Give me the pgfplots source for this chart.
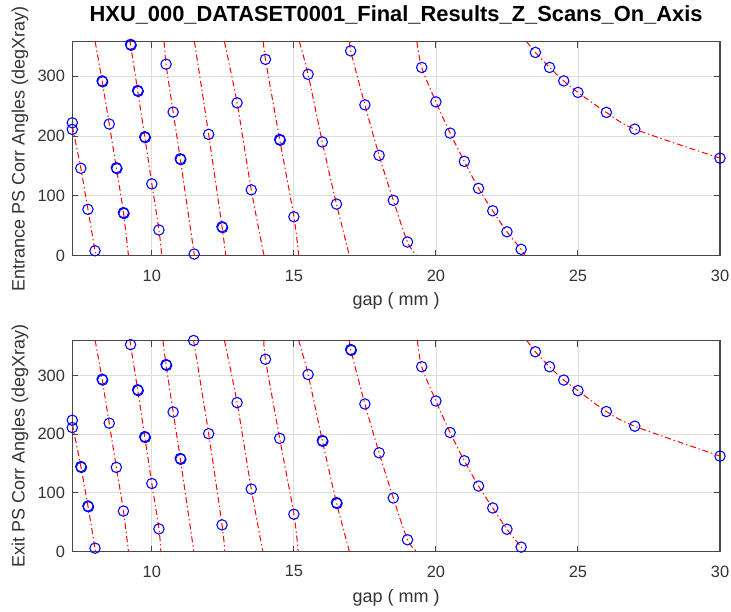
\documentclass[border=0pt]{standalone}
\usepackage{fontspec}
\setmainfont{Liberation Sans}
\usepackage{pgfplots}
\pgfplotsset{compat=1.18}
\definecolor{axgray}{rgb}{0.28,0.28,0.28}
\definecolor{txtgray}{rgb}{0.2,0.2,0.2}
\definecolor{gridgray}{rgb}{0.87,0.87,0.87}
\pgfplotsset{
  curve/.style={color=red, line width=0.75pt, dash pattern=on 4.5pt off 2.2pt on 1pt off 2.2pt, smooth, tension=0.5, mark=none, forget plot},
  pts/.style={only marks, mark=o, color=blue, mark size=3.9pt, mark options={line width=0.8pt, solid}, forget plot},
  matstyle/.style={
    scale only axis, width=485.775pt,
    xmin=7.2, xmax=30,
    xtick={10,15,20,25,30}, ytick={0,100,200,300},
    grid=major, major grid style={color=gridgray, line width=0.6pt},
    axis line style={color=axgray, line width=0.9pt},
    tick style={color=axgray, line width=0.7pt},
    tick align=inside, major tick length=4.5pt,
    /pgf/number format/assume math mode=true,
    tick label style={font=\fontsize{12.3}{14}\selectfont, color=txtgray},
    xticklabel style={yshift=-7pt},
    yticklabel style={xshift=-2pt},
    label style={font=\fontsize{13.5}{15}\selectfont, color=txtgray},
    ylabel style={at={(axis description cs:-0.0807,0.5)}, anchor=center, rotate=0},
    clip mode=individual,
  }
}
\begin{document}
\begin{tikzpicture}
\path[use as bounding box] (0,0) rectangle (548.25pt,-458.25pt);
% ---------------- top axis ----------------
\begin{axis}[matstyle, at={(54.225pt,-31.275pt)}, anchor=north west,
  height=160.5pt, ymin=0, ymax=357.5,
  title={HXU\_000\_DATASET0001\_Final\_Results\_Z\_Scans\_On\_Axis},
  title style={font=\bfseries\fontsize{16.4}{18}\selectfont, color=black, at={(axis description cs:0.5,1)}, anchor=base, yshift=9.3pt},
  xlabel={gap ( mm )},
  xlabel style={at={(axis description cs:0.5,0)}, anchor=center, yshift=-33.7pt},
  ylabel={Entrance PS Corr Angles (degXray)}]
\addplot[curve] coordinates {(7.2,216) (7.5,146) (7.75,77.5) (8.0,8.3) (8.04,0)};
\addplot[curve] coordinates {(8.005,357.5) (8.25,292) (8.5,220) (8.75,147) (9.0,72) (9.177,0)};
\addplot[curve] coordinates {(9.236,357.5) (9.25,353) (9.5,276) (9.75,198.7) (10.0,120) (10.25,43) (10.35,0)};
\addplot[curve] coordinates {(10.433,357.5) (10.5,320) (10.75,240) (11.0,162) (11.49,2.8) (11.51,0)};
\addplot[curve] coordinates {(11.5,357.5) (12.0,202.7) (12.47,48.4) (12.605,0)};
\addplot[curve] coordinates {(12.555,357.5) (13.0,255.4) (13.5,110) (13.95,0)};
\addplot[curve] coordinates {(13.928,357.5) (14.0,328) (14.5,194.3) (15.0,65) (15.17,0)};
\addplot[curve] coordinates {(15.195,357.5) (15.5,303) (16.0,190) (16.5,86.3) (16.955,0)};
\addplot[curve] coordinates {(16.98,357.5) (17.0,342.2) (17.5,252) (18.0,167.6) (18.5,92.5) (19.0,22.9) (19.326,0)};
\addplot[curve] coordinates {(19.33,357.5) (19.5,314.5) (20.0,257) (20.5,204.8) (21.0,157.6) (21.5,112.5) (22.0,75) (22.5,40) (23.0,10.7) (23.13,0)};
\addplot[curve] coordinates {(23.197,357.5) (23.5,339.6) (24.0,314.5) (24.5,292) (25.0,272.8) (26.0,239.4) (27.0,211.5) (30.0,163)};
\addplot[pts] coordinates {
(7.2,222) (7.2,211) (7.5,146) (7.75,77.5) (8.0,8.3)
(8.25,292) (8.5,220) (8.75,147) (9.0,72)
(9.25,353) (9.5,276) (9.75,198.7) (10.0,120) (10.25,43)
(10.5,320) (10.75,240) (11.0,162) (11.49,2.8)
(12.0,202.7) (12.47,48.4)
(13.0,255.4) (13.5,110)
(14.0,328) (14.5,194.3) (15.0,65)
(15.5,303) (16.0,190) (16.5,86.3)
(17.0,342.2) (17.5,252) (18.0,167.6) (18.5,92.5) (19.0,22.9)
(19.5,314.5) (20.0,257) (20.5,204.8) (21.0,157.6) (21.5,112.5) (22.0,75) (22.5,40) (23.0,10.7)
(23.5,339.6) (24.0,314.5) (24.5,292) (25.0,272.8) (26.0,239.4) (27.0,211.5) (30.0,163)};
\addplot[pts] coordinates {
(8.27,290.5) (8.77,145.5) (9.02,70.5) (9.27,351.5) (9.52,274.5) (9.77,197.2) (11.02,160.5) (12.49,46.9) (14.52,192.8)};
\end{axis}
% ---------------- bottom axis ----------------
\begin{axis}[matstyle, at={(54.225pt,-255.375pt)}, anchor=north west,
  height=158.25pt, ymin=0, ymax=360,
  xlabel={gap ( mm )},
  xlabel style={at={(axis description cs:0.5,0)}, anchor=center, yshift=-34.5pt},
  ylabel={Exit PS Corr Angles (degXray)}]
\addplot[curve] coordinates {(7.2,217) (7.5,145) (7.75,77.7) (8.0,5.7) (8.02,0)};
\addplot[curve] coordinates {(8.005,360) (8.25,294) (8.5,219) (8.75,143.5) (9.0,69) (9.177,0)};
\addplot[curve] coordinates {(9.236,360) (9.25,353) (9.5,276) (9.75,196) (10.0,116) (10.25,38.6) (10.316,0)};
\addplot[curve] coordinates {(10.39,360) (10.5,319) (10.75,238) (11.0,158.8) (11.478,0)};
\addplot[curve] coordinates {(11.47,360) (12.0,201) (12.47,45.4) (12.57,0)};
\addplot[curve] coordinates {(12.555,360) (13.0,254) (13.5,106.6) (13.907,0)};
\addplot[curve] coordinates {(13.95,360) (14.0,328) (14.5,193) (15.0,63.6) (15.15,0)};
\addplot[curve] coordinates {(15.17,360) (15.5,302) (16.0,189.4) (16.5,83.4) (16.955,0)};
\addplot[curve] coordinates {(16.96,360) (17.0,344.7) (17.5,251.7) (18.0,168.4) (18.5,91.3) (19.0,20) (19.33,0)};
\addplot[curve] coordinates {(19.35,360) (19.5,315.3) (20.0,256.8) (20.5,203) (21.0,154.8) (21.5,111.7) (22.0,74.3) (22.5,38) (23.0,7.5) (23.08,0)};
\addplot[curve] coordinates {(23.2,360) (23.5,340.8) (24.0,315.3) (24.5,292.5) (25.0,274.5) (26.0,238.8) (27.0,213.8) (30.0,162.8)};
\addplot[pts] coordinates {
(7.2,224) (7.2,211.5) (7.5,145) (7.75,77.7) (8.0,5.7)
(8.25,294) (8.5,219) (8.75,143.5) (9.0,69)
(9.25,353) (9.5,276) (9.75,196) (10.0,116) (10.25,38.6)
(10.5,319) (10.75,238) (11.0,158.8) (11.47,360)
(12.0,201) (12.47,45.4)
(13.0,254) (13.5,106.6)
(14.0,328) (14.5,193) (15.0,63.6)
(15.5,302) (16.0,189.4) (16.5,83.4)
(17.0,344.7) (17.5,251.7) (18.0,168.4) (18.5,91.3) (19.0,20)
(19.5,315.3) (20.0,256.8) (20.5,203) (21.0,154.8) (21.5,111.7) (22.0,74.3) (22.5,38) (23.0,7.5)
(23.5,340.8) (24.0,315.3) (24.5,292.5) (25.0,274.5) (26.0,238.8) (27.0,213.8) (30.0,162.8)};
\addplot[pts] coordinates {
(7.52,143.5) (7.77,76.2) (8.27,292.5) (9.52,274.5) (9.77,194.5) (10.52,317.5) (11.02,157.3) (16.02,187.9) (16.52,81.9) (17.02,343.2)};
\end{axis}
\end{tikzpicture}
\end{document}
